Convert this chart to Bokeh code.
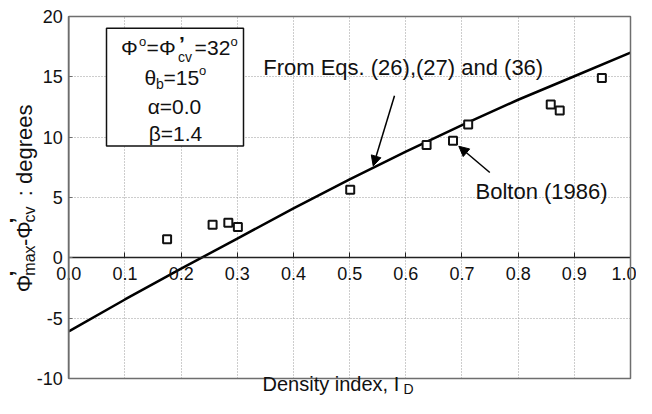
from math import pi
from bokeh.plotting import figure
from bokeh.models import (Range1d, FixedTicker, PrintfTickFormatter, Label,
                          BoxAnnotation, Arrow, NormalHead)
from bokeh.embed import file_html
from bokeh.resources import INLINE

# ---------------- data ----------------
curve_ID = [0.0, 0.1, 0.2, 0.3, 0.4, 0.5, 0.6, 0.7, 0.8, 0.9, 1.0]
curve_dphi = [-6.1, -3.45, -0.9, 1.6, 4.1, 6.5, 8.8, 11.0, 13.1, 15.05, 17.0]

bolton_ID = [0.175, 0.256, 0.284, 0.301, 0.501, 0.637, 0.684, 0.711, 0.858, 0.874, 0.949]
bolton_dphi = [1.55, 2.75, 2.9, 2.55, 5.65, 9.35, 9.7, 11.05, 12.7, 12.2, 14.9]

x_ticks = [0.0, 0.1, 0.2, 0.3, 0.4, 0.5, 0.6, 0.7, 0.8, 0.9, 1.0]
y_ticks = [-10, -5, 0, 5, 10, 15, 20]

FONT = "Liberation Sans"
W, H = 636, 398

# horizontal: x=0 at px 68.3, x=1 at px 630
X0PX, SX = 68.3, 630.0 - 68.3
# vertical (canvas): y=20 at py 16, y=-10 at py 378
CY_TOP, CY_BOT = 16.0, 378.0
# vertical (reference picture): y=20 at py 16, y=-10 at py 385
RY_TOP, RY_BOT = 16.0, 385.0


def dx(px):
    return (px - X0PX) / SX


def dyr(py):  # reference-picture pixel row -> data
    return 20 - (py - RY_TOP) * 30 / (RY_BOT - RY_TOP)


def dyc(py):  # canvas pixel row -> data
    return 20 - (py - CY_TOP) * 30 / (CY_BOT - CY_TOP)


p = figure(width=W, height=H, output_backend="svg", toolbar_location=None,
           x_range=Range1d(dx(0), dx(W)), y_range=Range1d(dyc(H), dyc(0)),
           min_border_left=0, min_border_right=0, min_border_top=0,
           min_border_bottom=0)
p.background_fill_color = "white"
p.border_fill_color = "white"
p.outline_line_color = None

# axes placed inside the (full-canvas) frame
xa = p.xaxis[0]
xa.fixed_location = 0
xa.bounds = (0, 1)
xa.ticker = FixedTicker(ticks=x_ticks)
xa.formatter = PrintfTickFormatter(format="%.1f")
xa.major_tick_in = 5
xa.major_tick_out = 0
xa.minor_tick_in = 0
xa.minor_tick_out = 0
xa.axis_line_color = "#222222"
xa.axis_line_width = 1.5
xa.major_tick_line_color = "#222222"
xa.major_label_text_font = FONT
xa.major_label_text_font_size = "18px"
xa.major_label_text_color = "#111111"
xa.major_label_standoff = 9

ya = p.yaxis[0]
ya.fixed_location = 0
ya.bounds = (-10, 20)
ya.ticker = FixedTicker(ticks=y_ticks)
ya.formatter = PrintfTickFormatter(format="%d")
ya.major_tick_in = 4
ya.major_tick_out = 0
ya.minor_tick_in = 0
ya.minor_tick_out = 0
ya.axis_line_color = "#6e6e6e"
ya.axis_line_width = 1.5
ya.major_tick_line_color = "#6e6e6e"
ya.major_label_text_font = FONT
ya.major_label_text_font_size = "18px"
ya.major_label_text_color = "#111111"
ya.major_label_standoff = 6

# grids (dotted), limited to the data box
for g, cb in ((p.xgrid[0], (-10, 20)), (p.ygrid[0], (0, 1))):
    g.grid_line_color = "#9a9a9a"
    g.grid_line_dash = "1 2"
    g.grid_line_width = 1
    try:
        g.cross_bounds = cb
    except Exception:
        pass

# frame of the data box
p.add_layout(BoxAnnotation(left=0, right=1, bottom=-10, top=20, fill_alpha=0,
                           line_color="#6e6e6e", line_width=1.5, line_alpha=1.0))

# curve and data
p.line(curve_ID, curve_dphi, line_color="black", line_width=2.5)
p.scatter(bolton_ID, bolton_dphi, marker="square", size=8, line_color="#111111",
          line_width=2, fill_color="white")


def lab(x, y, text, size, align="left", angle=0.0, style="normal"):
    p.add_layout(Label(x=x, y=y, text=text, text_font=FONT,
                       text_font_size=f"{size}px", text_align=align,
                       text_baseline="middle", angle=angle,
                       text_font_style=style, text_color="#111111"))


def labr(px, py, text, size, **kw):  # middle of text, reference-picture pixels
    lab(dx(px), dyr(py), text, size, **kw)


# parameter box
p.add_layout(BoxAnnotation(left=dx(106), right=dx(243), top=dyr(28), bottom=dyr(148),
                           fill_color="white", fill_alpha=1.0,
                           line_color="#111111", line_width=1.5, line_alpha=1.0))

# line 1: Φ°=Φ'cv=32°
labr(120.5, 47.7, "Φ", 21)
labr(138.5, 41.5, "o", 13)
labr(146, 47.7, "=", 21)
labr(158.5, 47.7, "Φ", 21)
labr(178.5, 43.6, "’", 21, style="bold")
labr(177.5, 57.1, "cv", 14)
labr(194, 47.7, "=", 21)
labr(206.5, 47.7, "32", 21)
labr(230, 41.5, "o", 13)
# line 2: θb=15°
labr(144, 77.7, "θ", 21)
labr(155.5, 85.1, "b", 14)
labr(163, 77.7, "=15", 21)
labr(198.5, 71.5, "o", 13)
# lines 3, 4
labr(174, 107.7, "α=0.0", 21, align="center")
labr(175, 135.7, "β=1.4", 21, align="center")

# annotations
labr(262.7, 68.3, "From Eqs. (26),(27) and (36)", 22)
labr(475, 194.0, "Bolton (1986)", 22)
head = dict(size=10, fill_color="black", line_color="black", line_width=1)
p.add_layout(Arrow(end=NormalHead(**head),
                   x_start=dx(394), y_start=dyr(96.7), x_end=dx(372.7), y_end=dyr(168.3),
                   line_color="black", line_width=1.5))
p.add_layout(Arrow(end=NormalHead(**head),
                   x_start=dx(489.3), y_start=dyr(175), x_end=dx(458.3), y_end=dyr(148.3),
                   line_color="black", line_width=1.5))

# x axis title: Density index, I_D (canvas rows)
lab(dx(262), dyc(383), "Density index, I", 20)
lab(dx(403), dyc(388.5), "D", 14)

# y axis title: Φ'max-Φ'cv : degrees (rotated, reading upward)
A = pi / 2
labr(24.3, 297, "Φ", 22, angle=A)
labr(16.8, 281, "’", 22, angle=A, style="bold")
labr(29.4, 280.2, "max", 16, angle=A)
labr(24.3, 250, "-Φ", 22, angle=A)
labr(16.8, 227, "’", 22, angle=A, style="bold")
labr(29.4, 225.9, "cv", 16, angle=A)
labr(24.3, 205.5, "\u00a0: degrees", 22, angle=A)

open("out.html", "w").write(file_html(p, INLINE))
